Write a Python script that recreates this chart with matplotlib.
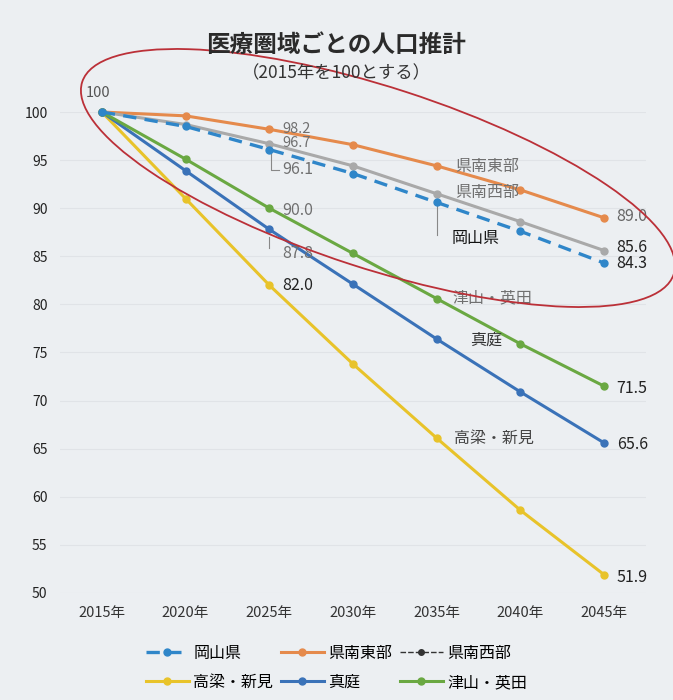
import matplotlib.pyplot as plt
from matplotlib.patches import Ellipse
from matplotlib.lines import Line2D

plt.rcParams['font.family'] = ['Noto Sans CJK JP', 'DejaVu Sans']

years = ['2015年', '2020年', '2025年', '2030年', '2035年', '2040年', '2045年']
okayama = [100, 98.5, 96.1, 93.6, 90.6, 87.6, 84.3]
nantou = [100, 99.6, 98.2, 96.6, 94.4, 91.9, 89.0]
nansei = [100, 98.7, 96.7, 94.4, 91.5, 88.6, 85.6]
takahashi = [100, 91.0, 82.0, 73.8, 66.1, 58.6, 51.9]
maniwa = [100, 93.9, 87.8, 82.1, 76.4, 70.9, 65.6]
tsuyama = [100, 95.1, 90.0, 85.3, 80.6, 75.9, 71.5]

bg = '#eceff2'
fig = plt.figure(figsize=(6.73, 7.0), dpi=100, facecolor=bg)
ax = fig.add_axes([60 / 673, 1 - 593 / 700, 586 / 673, 481 / 700])
ax.set_facecolor(bg)
x = range(len(years))

c_ok, c_to, c_se = '#2f86c9', '#e58a4c', '#a9a9a9'
c_ta, c_ma, c_ts = '#e8c32a', '#3a72b8', '#6aa842'
ms = 5
l_ok, = ax.plot(x, okayama, color=c_ok, lw=2.4, ls=(0, (4, 2.5)), marker='o', ms=ms, clip_on=False, zorder=4)
l_to, = ax.plot(x, nantou, color=c_to, lw=2.2, marker='o', ms=ms, clip_on=False, zorder=3)
l_se, = ax.plot(x, nansei, color=c_se, lw=2.2, marker='o', ms=ms, clip_on=False, zorder=3)
l_ta, = ax.plot(x, takahashi, color=c_ta, lw=2.2, marker='o', ms=ms, clip_on=False, zorder=3)
l_ma, = ax.plot(x, maniwa, color=c_ma, lw=2.2, marker='o', ms=ms, clip_on=False, zorder=3)
l_ts, = ax.plot(x, tsuyama, color=c_ts, lw=2.2, marker='o', ms=ms, clip_on=False, zorder=3)

ax.set_xlim(-0.5, 6.5)
ax.set_ylim(50, 100)
ax.set_yticks(range(50, 101, 5))
ax.set_xticks(list(x))
ax.set_xticklabels(years, fontsize=10.5, color='#333333')
ax.tick_params(axis='y', length=0, pad=9, labelsize=10, labelcolor='#222222')
ax.tick_params(axis='x', length=0, pad=9)
for s in ax.spines.values():
    s.set_visible(False)
ax.grid(axis='y', color='#e0e3e7', lw=0.8)

# data labels
kw = dict(fontsize=11.5, va='center')
ax.text(-0.05, 102.0, '100', color='#555555', ha='center', fontsize=10.5, va='center')
ax.text(2.16, 98.25, '98.2', color='#707070', fontsize=10.5, va='center')
ax.text(2.16, 96.75, '96.7', color='#707070', fontsize=10.5, va='center')
ax.text(2.16, 94.0, '96.1', color='#707070', **kw)
ax.text(2.16, 89.8, '90.0', color='#707070', **kw)
ax.text(2.16, 85.3, '87.8', color='#707070', **kw)
ax.text(2.16, 82.0, '82.0', color='#222222', **kw)
ax.text(6.15, 89.1, '89.0', color='#666666', **kw)
ax.text(6.15, 85.9, '85.6', color='#222222', **kw)
ax.text(6.15, 84.2, '84.3', color='#222222', **kw)
ax.text(6.15, 71.3, '71.5', color='#222222', **kw)
ax.text(6.15, 65.4, '65.6', color='#222222', **kw)
ax.text(6.15, 51.6, '51.9', color='#222222', **kw)
ax.text(4.22, 94.3, '県南東部', color='#707070', **kw)
ax.text(4.22, 91.6, '県南西部', color='#707070', **kw)
ax.text(4.18, 86.9, '岡山県', color='#111111', **kw)
ax.text(4.19, 80.7, '津山・英田', color='#707070', **kw)
ax.text(4.4, 76.3, '真庭', color='#333333', **kw)
ax.text(4.21, 66.1, '高梁・新見', color='#444444', **kw)

# leader lines
ax.plot([2.02, 2.02, 2.12], [95.6, 94.0, 94.0], color='#888888', lw=0.8)
ax.plot([2.0, 2.0], [87.0, 85.9], color='#888888', lw=0.8)
ax.plot([4.0, 4.0], [90.3, 87.2], color='#888888', lw=0.8)

fig.text(0.5, 1 - 45 / 700, '医療圏域ごとの人口推計', ha='center', va='center', fontsize=17, fontweight='bold', color='#2b2b2b')
fig.text(0.5, 1 - 73 / 700, '（2015年を100とする）', ha='center', va='center', fontsize=12.5, color='#333333')

leg_se = Line2D([], [], color='#333333', lw=1.0, ls=(0, (4, 1.5)), marker='o', ms=4)
handles = [l_ok, l_ta, l_to, l_ma, leg_se, l_ts]
labels = ['岡山県', '高梁・新見', '県南東部', '真庭', '県南西部', '津山・英田']
fig.legend(handles, labels, loc='center', bbox_to_anchor=(0.5, 1 - 668 / 700), ncol=3,
           frameon=False, fontsize=11.5, handlelength=2.7, columnspacing=0.45, handletextpad=0.3,
           labelspacing=0.75)

# hand-drawn red ellipse
ov = fig.add_axes([0, 0, 1, 1], facecolor='none')
ov.set_xlim(0, 673)
ov.set_ylim(700, 0)
ov.axis('off')
ov.add_patch(Ellipse((378, 178), 622, 181, angle=18, fill=False, ec='#bb3038', lw=1.3))

fig.savefig('out.png', dpi=100, facecolor=bg)
